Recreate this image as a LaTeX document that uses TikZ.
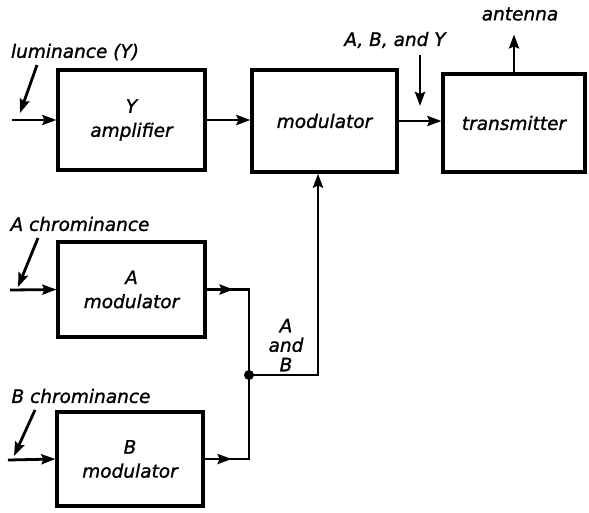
\documentclass[tikz,border=0pt]{standalone}
\usepackage{fontspec}
\setmainfont{DejaVu Sans}[FakeBold=1.2]
\newfontfamily\lblfont{DejaVu Sans}[FakeBold=1.2]
\usetikzlibrary{arrows.meta,decorations.markings}
\begin{document}
\begin{tikzpicture}[x=1pt,y=-1pt,
  txt/.style={font=\lblfont\itshape\fontsize{18.5}{24}\selectfont},
  lbl/.style={txt, inner sep=0pt, align=center},
  blk/.style={draw, line width=3.2pt, inner sep=0pt, align=center, txt},
  conn/.style={line width=2.8pt},
  tip/.style={-{Stealth[length=14pt,width=10pt,inset=2pt]}},
  midarrow/.style={postaction=decorate, decoration={markings,
     mark=at position 27pt with {\arrow{Stealth[length=14pt,width=10pt,inset=2pt]}}}}]
\useasboundingbox (0,0) rectangle (589,512);
% blocks
\node[blk, minimum width=147pt, minimum height=100pt] (yamp) at (131.5,120) {Y\\amplifier};
\node[blk, minimum width=145pt, minimum height=102pt] (mod) at (324.5,121) {modulator};
\node[blk, minimum width=142pt, minimum height=98pt] (tx) at (514,123) {transmitter};
\node[blk, minimum width=147pt, minimum height=95pt] (amod) at (131.5,289.5) {A\\modulator};
\node[blk, minimum width=146pt, minimum height=94pt] (bmod) at (130,459) {B\\modulator};
% labels
\node[lbl] (lum) at (75,52) {luminance (Y)};
\node[lbl] (achr) at (80,224) {A chrominance};
\node[lbl] (bchr) at (81,396) {B chrominance};
\node[lbl] (aby) at (395,40) {A, B, and Y};
\node[lbl] (ant) at (520,14) {antenna};
\node[lbl, font=\lblfont\itshape\fontsize{18.5}{19.5}\selectfont] (ab) at (286,345) {A\\and\\B};
% inputs
\coordinate (yin) at (12,120);
\coordinate (ain) at (10,290);
\coordinate (bin) at (8,460);
\draw[conn,tip] (yin) -- (yamp.west);
\draw[conn,tip] (ain) -- (amod.west);
\draw[conn,tip] (bin) -- (bmod.west);
% diagonal pointers
\coordinate (l1) at (37,65);  \coordinate (l2) at (20,113);
\coordinate (a1) at (38,238); \coordinate (a2) at (18,287);
\coordinate (b1) at (35,410); \coordinate (b2) at (14,456);
\draw[conn,tip] (l1) -- (l2);
\draw[conn,tip] (a1) -- (a2);
\draw[conn,tip] (b1) -- (b2);
% main chain
\draw[conn,tip] (yamp.east) -- (yamp.east -| mod.west);
\draw[conn,tip] (mod.east) -- (mod.east -| tx.west);
\coordinate (d1) at (420,55); \coordinate (d2) at (420,106);
\draw[conn,tip] (d1) -- (d2);
\draw[conn,tip] (tx.north) -- ++(0,-38);
% A/B merge
\coordinate (j) at (249,375);
\coordinate (abc) at (318,375);
\draw[conn,midarrow] (amod.east) -- (amod.east -| j) -- (j);
\draw[conn,midarrow] (bmod.east) -- (bmod.east -| j) -- (j);
\draw[conn,tip] (j) -- (abc) -- (abc |- mod.south);
\fill (j) circle (5pt);
\end{tikzpicture}
\end{document}
